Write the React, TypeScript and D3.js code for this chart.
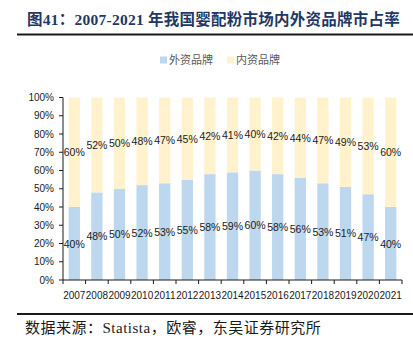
import React from "react";
import * as d3 from "d3";

const years = ["2007","2008","2009","2010","2011","2012","2013","2014","2015","2016","2017","2018","2019","2020","2021"];
const foreign = [40,48,50,52,53,55,58,59,60,58,56,53,51,47,40];
const domestic = [60,52,50,48,47,45,42,41,40,42,44,47,49,53,60];
const seriesNames = ["外资品牌", "内资品牌"];
const colors = ["#BDD7EE", "#FFF2CC"];
const yTicks = [0,10,20,30,40,50,60,70,80,90,100];

export default function App() {
  const W = 413, H = 342;
  const left = 63, right = 402, top = 97.5, bottom = 280;
  const x = d3.scaleBand().domain(years).range([left, right]).paddingInner(0.5).paddingOuter(0.25);
  const y = d3.scaleLinear().domain([0, 100]).range([bottom, top]);
  const step = x.step();
  const labelFont = "'Liberation Sans', Arial, sans-serif";
  return (
    <div style={{ position: "absolute", left: 0, top: 0 }}>
      <svg width={W} height={H} style={{ display: "block", background: "#fff" }}>
        <text x={27} y={25} fontSize={15.5} fontWeight="bold" fill="#1F3864" letterSpacing={0.25}
          fontFamily="'Liberation Serif', 'Noto Sans CJK SC', serif">图41：2007-2021 年我国婴配粉市场内外资品牌市占率</text>
        <line x1={17} x2={413} y1={34.5} y2={34.5} stroke="#1a1a1a" strokeWidth={2} />
        {/* legend */}
        <rect x={160} y={56.5} width={7} height={7} fill={colors[0]} />
        <text x={169} y={64} fontSize={11} fill="#595959" fontFamily="'Noto Sans CJK SC', sans-serif">{seriesNames[0]}</text>
        <rect x={227} y={56.5} width={7} height={7} fill={colors[1]} />
        <text x={236} y={64} fontSize={11} fill="#595959" fontFamily="'Noto Sans CJK SC', sans-serif">{seriesNames[1]}</text>
        {/* bars */}
        {years.map((yr, i) => {
          const f = foreign[i], d = domestic[i];
          const bx = x(yr)!;
          const cx = bx + x.bandwidth() / 2;
          return (
            <g key={yr}>
              <rect x={bx} width={x.bandwidth()} y={y(f)} height={y(0) - y(f)} fill={colors[0]} />
              <rect x={bx} width={x.bandwidth()} y={y(f + d)} height={y(f) - y(f + d)} fill={colors[1]} />
              <text x={cx} y={y(f / 2) + 4} textAnchor="middle" fontSize={10.5} fill="#1a1a1a" fontFamily={labelFont}>{f}%</text>
              <text x={cx} y={y(f + d / 2) + 4} textAnchor="middle" fontSize={10.5} fill="#1a1a1a" fontFamily={labelFont}>{d}%</text>
            </g>
          );
        })}
        {/* y axis */}
        <line x1={left} x2={left} y1={top} y2={bottom} stroke="#1a1a1a" strokeWidth={1} />
        {yTicks.map(t => (
          <g key={t}>
            <line x1={left - 4} x2={left} y1={y(t)} y2={y(t)} stroke="#1a1a1a" />
            <text x={54} y={y(t) + 3.5} textAnchor="end" fontSize={10} fill="#1a1a1a" fontFamily={labelFont}>{t}%</text>
          </g>
        ))}
        {/* x axis */}
        <line x1={left} x2={right} y1={bottom} y2={bottom} stroke="#1a1a1a" />
        {d3.range(years.length + 1).map(k => (
          <line key={k} x1={left + k * step} x2={left + k * step} y1={bottom} y2={bottom + 4} stroke="#1a1a1a" />
        ))}
        {years.map(yr => (
          <text key={yr} x={x(yr)! + x.bandwidth() / 2} y={299} textAnchor="middle" fontSize={10} fill="#1a1a1a" fontFamily={labelFont}>{yr}</text>
        ))}
        <line x1={17} x2={413} y1={314} y2={314} stroke="#1a1a1a" strokeWidth={2} />
        <text x={25} y={333} fontSize={15} fill="#1a1a1a" letterSpacing={0.5}
          fontFamily="'Liberation Serif', 'Noto Sans CJK SC', serif">数据来源：Statista，欧睿，东吴证券研究所</text>
      </svg>
    </div>
  );
}
